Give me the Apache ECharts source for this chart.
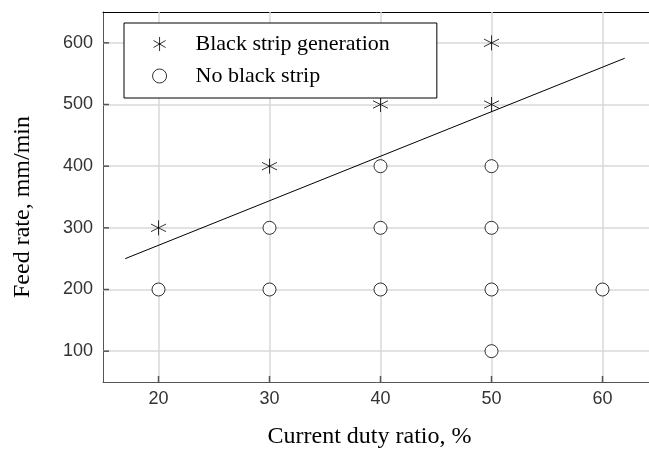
<!DOCTYPE html>
<html>
<head>
<meta charset="utf-8">
<script src="https://cdn.jsdelivr.net/npm/echarts@6/dist/echarts.min.js"></script>
<style>
    html,body{margin:0;padding:0;background:#fff;}
    #main{width:649px;height:454px;}
</style>
</head>
<body>
<div id="main"></div>
<script>
//--------------------数据---------------------------
var blackStrip = [[20, 300], [30, 400], [40, 500], [50, 500], [50, 600]];     //Black strip generation
var noStrip = [[20, 200], [30, 200], [30, 300], [40, 200], [40, 300], [40, 400],
    [50, 100], [50, 200], [50, 300], [50, 400], [60, 200]];                  //No black strip
var boundary = [[17, 250], [62, 575]];                                        //分界线
var xTicks = [20, 30, 40, 50, 60];
var yTicks = [100, 200, 300, 400, 500, 600];
//--------------------数据---------------------------

var star = 'path://M0,-10L0,10M-8.66,-5L8.66,5M-8.66,5L8.66,-5';

var myChart = echarts.init(document.getElementById('main'));
var option = {
    animation: false,
    backgroundColor: '#fff',
    grid: {
        left: 103,
        top: 12,
        right: -9,
        bottom: 72,
        outerBoundsMode: 'none'
    },
    legend: {
        orient: 'vertical',
        left: 124,
        top: 23,
        z: 20,
        data: ['Black strip generation', 'No black strip'],
        borderColor: '#000',
        borderWidth: 1,
        backgroundColor: '#fff',
        padding: [10, 47, 11, 27],
        itemGap: 10,
        itemWidth: 14,
        itemHeight: 14,
        itemStyle: {borderWidth: 1},
        textStyle: {
            fontFamily: 'Liberation Serif',
            fontSize: 22,
            color: '#000',
            padding: [0, 0, 0, 24]
        }
    },
    xAxis: [
        {
            type: 'value',
            min: 15,
            max: 65,
            interval: 5,
            name: 'Current duty ratio, %',
            nameLocation: 'middle',
            nameGap: 43,
            nameTextStyle: {fontFamily: 'Liberation Serif', fontSize: 24, color: '#000', padding: [0, 22, 0, 0]},
            axisLine: {lineStyle: {color: '#555'}},
            axisTick: {show: false},
            axisLabel: {
                fontFamily: 'Liberation Sans', fontSize: 18, color: '#333', margin: 8,
                formatter: function (v) { return xTicks.indexOf(v) >= 0 ? v : ''; }
            },
            splitLine: {show: false}
        },
        {
            type: 'value',
            position: 'top',
            min: 15,
            max: 65,
            axisLine: {show: true, lineStyle: {color: '#000'}},
            axisTick: {show: false},
            axisLabel: {show: false},
            splitLine: {show: false}
        }
    ],
    yAxis: {
        type: 'value',
        min: 50,
        max: 650,
        interval: 50,
        name: 'Feed rate, mm/min',
        nameLocation: 'middle',
        nameGap: 68,
        nameTextStyle: {fontFamily: 'Liberation Serif', fontSize: 24, color: '#000', padding: [0, 20, 0, 0]},
        axisLine: {show: true, lineStyle: {color: '#555'}},
        axisTick: {show: false},
        axisLabel: {
            fontFamily: 'Liberation Sans', fontSize: 18, color: '#333', margin: 10,
            formatter: function (v) { return yTicks.indexOf(v) >= 0 ? v : ''; }
        },
        splitLine: {show: false}
    },
    series: [
        {
            name: 'Black strip generation',
            type: 'scatter',
            symbol: star,
            symbolSize: 15,
            itemStyle: {color: 'none', borderColor: '#000', borderWidth: 1},
            data: blackStrip,
            z: 5
        },
        {
            name: 'No black strip',
            type: 'scatter',
            symbol: 'circle',
            symbolSize: 13,
            itemStyle: {color: '#fff', borderColor: '#000', borderWidth: 1},
            data: noStrip,
            z: 5
        },
        {
            name: 'boundary',
            type: 'line',
            showSymbol: false,
            symbol: 'none',
            lineStyle: {color: '#000', width: 1},
            data: boundary,
            z: 4
        },
        // 网格线
        {
            name: 'grid',
            type: 'line',
            data: [],
            markLine: {
                silent: true,
                z: 1,
                symbol: 'none',
                label: {show: false},
                lineStyle: {color: '#d8d8d8', width: 1.5, type: 'solid'},
                data: xTicks.map(function (v) { return {xAxis: v}; })
                    .concat(yTicks.map(function (v) { return {yAxis: v}; }))
            },
            z: 1
        }
    ]
};
myChart.setOption(option);

// 内向刻度
var ticks = [];
xTicks.forEach(function (v) {
    var p = myChart.convertToPixel({xAxisIndex: 0, yAxisIndex: 0}, [v, 50]);
    ticks.push({type: 'line', shape: {x1: p[0], y1: p[1], x2: p[0], y2: p[1] - 6}, style: {stroke: '#555', lineWidth: 1.5}, z: 10});
});
yTicks.forEach(function (v) {
    var p = myChart.convertToPixel({xAxisIndex: 0, yAxisIndex: 0}, [15, v]);
    ticks.push({type: 'line', shape: {x1: p[0], y1: p[1], x2: p[0] + 6, y2: p[1]}, style: {stroke: '#555', lineWidth: 1.5}, z: 10});
});
myChart.setOption({graphic: ticks});
</script>
</body>
</html>
